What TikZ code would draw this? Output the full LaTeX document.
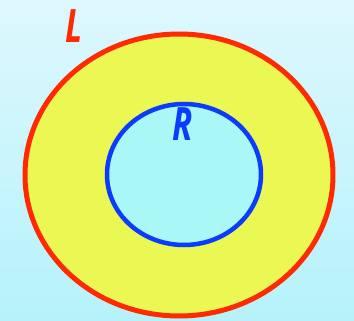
\documentclass[tikz,border=0pt]{standalone}
\usepackage{fontspec}
\newfontfamily\lblfont{Open Sans}
\definecolor{bgtop}{HTML}{DDF8FD}
\definecolor{bgbot}{HTML}{B6F2FB}
\definecolor{yel}{HTML}{EBF752}
\definecolor{cyn}{HTML}{A9F7F7}
\definecolor{redc}{HTML}{FF2A00}
\definecolor{bluec}{HTML}{0A3BFF}
\tikzset{lbl/.style={inner sep=0pt, font=\lblfont\bfseries\itshape\fontsize{46}{46}\selectfont, xscale=0.72}}
\begin{document}
\begin{tikzpicture}[x=1pt,y=-1pt]
\useasboundingbox (0,0) rectangle (354,321);
\shade[top color=bgtop, bottom color=bgbot] (0,0) rectangle (354,321);
\draw[redc, line width=5pt, fill=yel] (179,175) ellipse [x radius=154, y radius=141];
\draw[bluec, line width=4.5pt, fill=cyn] (184,174.5) ellipse [x radius=77, y radius=70.5];
\node[lbl, text=redc] (L) at (74,26) {L};
\node[lbl, text=bluec] (R) at (183,124) {R};
\end{tikzpicture}
\end{document}
